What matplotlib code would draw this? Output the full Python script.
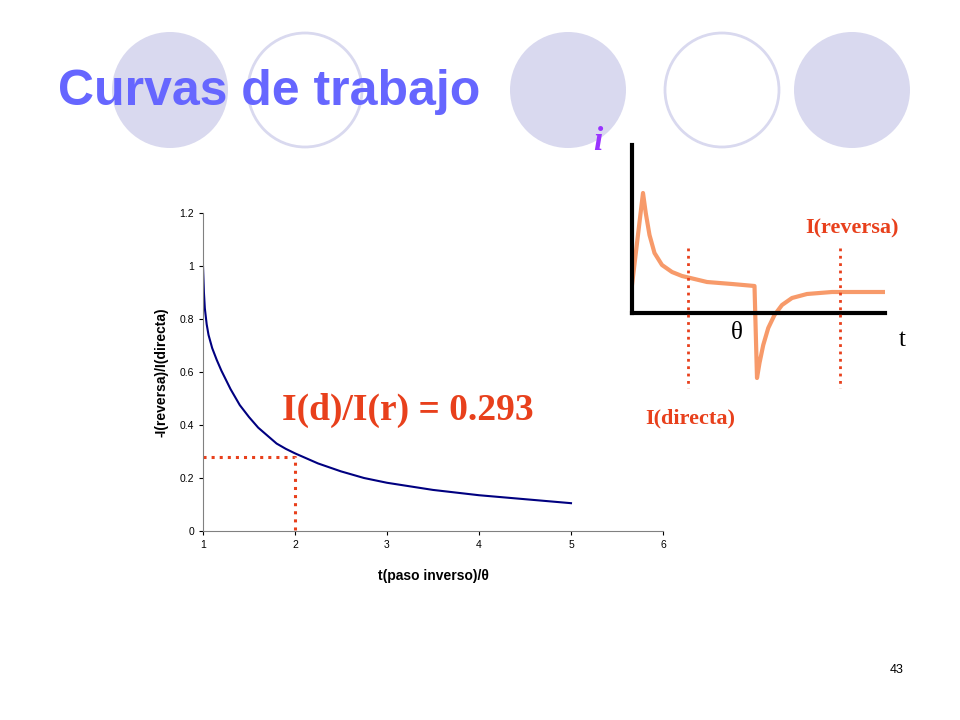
import matplotlib.pyplot as plt
from matplotlib.patches import Circle
import numpy as np

# main chart data
t_ratio = [1.0, 1.01, 1.02, 1.04, 1.06, 1.08, 1.1, 1.15, 1.2, 1.3, 1.4, 1.5, 1.6, 1.7, 1.8, 1.9, 2.0,
           2.25, 2.5, 2.75, 3.0, 3.5, 4.0, 4.5, 5.0]
i_ratio = [1.0, 0.9, 0.84, 0.78, 0.74, 0.715, 0.69, 0.645, 0.605, 0.535, 0.475, 0.43, 0.39, 0.36, 0.33,
           0.31, 0.293, 0.255, 0.225, 0.2, 0.182, 0.155, 0.135, 0.12, 0.105]
x_ticks = [1, 2, 3, 4, 5, 6]
y_ticks = [0, 0.2, 0.4, 0.6, 0.8, 1.0, 1.2]
y_labels = ['0', '0.2', '0.4', '0.6', '0.8', '1', '1.2']

# inset schematic data
t_sch = [0, 0.44, 0.55, 0.7, 0.9, 1.2, 1.6, 2.0, 2.5, 3.0, 4.0, 4.9, 5.0, 5.1, 5.25, 5.45, 5.7, 6.0,
         6.4, 7.0, 8.0, 10.1]
i_sch = [0.28, 1.2, 1.0, 0.78, 0.6, 0.48, 0.41, 0.37, 0.34, 0.31, 0.29, 0.27, -0.65, -0.5, -0.32,
         -0.15, -0.02, 0.08, 0.15, 0.19, 0.21, 0.21]
marks = [2.24, 8.32]

W, H = 960, 720
SANS = 'Liberation Sans'
SERIF = 'Liberation Serif'
RED = '#e8401c'
fig = plt.figure(figsize=(9.6, 7.2), dpi=100)

# background decorations
bg = fig.add_axes([0, 0, 1, 1])
bg.set_xlim(0, W)
bg.set_ylim(H, 0)
bg.axis('off')
for cx, filled in [(170, True), (305, False), (568, True), (722, False), (852, True)]:
    if filled:
        bg.add_patch(Circle((cx, 90), 58, fc='#d9d9ef', ec='none'))
    else:
        bg.add_patch(Circle((cx, 90), 57, fc='white', ec='#d9d9ef', lw=2))

# main chart
ax = fig.add_axes([203 / W, 1 - 531 / H, 460 / W, 318 / H])
ax.patch.set_alpha(0)
ax.plot(t_ratio, i_ratio, color='#000080', lw=1.5)
ax.plot([1, 2, 2], [0.28, 0.28, 0], color=RED, ls=':', lw=2.2, clip_on=False)
ax.set_xlim(1, 6)
ax.set_ylim(0, 1.2)
ax.set_xticks(x_ticks)
ax.set_yticks(y_ticks)
ax.set_yticklabels(y_labels)
ax.tick_params(labelsize=7.5, length=3)
for lab in ax.get_xticklabels() + ax.get_yticklabels():
    lab.set_family(SANS)
for s in ['top', 'right']:
    ax.spines[s].set_visible(False)
ax.spines['left'].set_color('#808080')
ax.spines['bottom'].set_color('#808080')
ax.set_xlabel('t(paso inverso)/θ', fontsize=10, fontweight='bold', family=SANS, labelpad=14)
ax.set_ylabel('-I(reversa)/I(directa)', fontsize=10, fontweight='bold', family=SANS, labelpad=8)

# inset schematic
ins = fig.add_axes([632 / W, 1 - 390 / H, 253 / W, 245 / H])
ins.set_xlim(0, 10.12)
ins.set_ylim(-0.77, 1.68)
ins.axis('off')
ins.plot(t_sch, i_sch, color='#f79a6a', lw=3)
ins.plot([0, 0], [0, 1.68], color='black', lw=3, clip_on=False)
ins.plot([0, 10.12], [0, 0], color='black', lw=3, clip_on=False)
for m in marks:
    ins.plot([m, m], [0.65, -0.75], color=RED, ls=':', lw=2)

# text overlay on top of everything
top = fig.add_axes([0, 0, 1, 1])
top.set_xlim(0, W)
top.set_ylim(H, 0)
top.axis('off')
top.patch.set_alpha(0)
top.text(58, 92, 'Curvas de trabajo', color='#6666ff', fontsize=36, fontweight='bold',
         family=SANS, va='center')
top.text(890, 670, '43', fontsize=9, family=SANS, va='center')
top.text(282, 410, 'I(d)/I(r) = 0.293', color=RED, fontsize=27, fontweight='bold',
         family=SERIF, va='center')
top.text(598, 142, 'i', color='#9933ff', fontsize=24, fontweight='bold', style='italic',
         family=SERIF, ha='center', va='center')
top.text(852, 228, 'I(reversa)', color=RED, fontsize=16, fontweight='bold',
         family=SERIF, ha='center', va='center')
top.text(690, 418, 'I(directa)', color=RED, fontsize=16, fontweight='bold',
         family=SERIF, ha='center', va='center')
top.text(737, 333, 'θ', fontsize=18, family=SERIF, ha='center', va='center')
top.text(902, 340, 't', fontsize=18, family=SERIF, ha='center', va='center')

fig.savefig('out.png', dpi=100)
